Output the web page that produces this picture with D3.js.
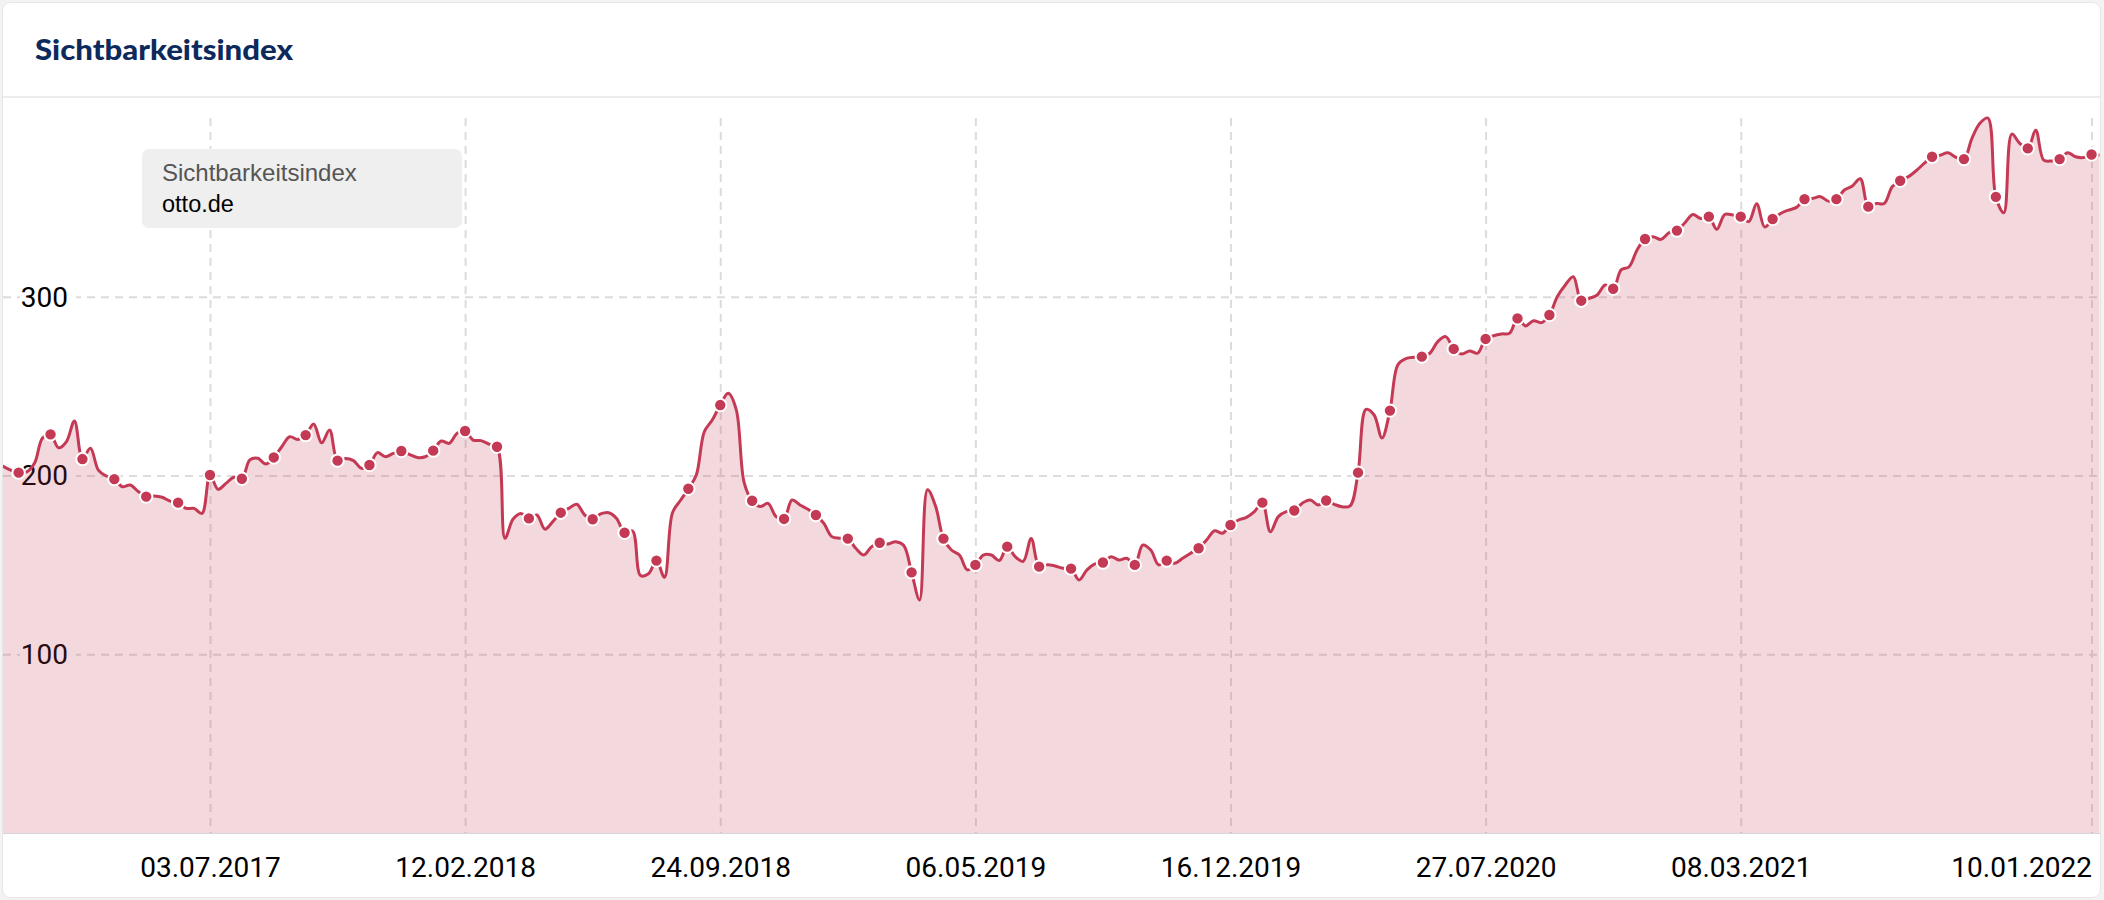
<!DOCTYPE html>
<html>
<head>
<meta charset="utf-8">
<script src="https://cdn.jsdelivr.net/npm/d3@7"></script>
<style>
  body { margin: 0; background: #f3f3f3; }
  svg { display: block; }
</style>
</head>
<body>
<div id="chart"></div>
<script>
// Sichtbarkeitsindex otto.de, one value per week (Mondays), grouped by ISO year
var firstWeek = "02.01.2017";

var values2017 = [205.3, 203, 201.6, 202, 207, 221, 223, 215.5, 219, 230.5,
    209.2, 215.2, 203, 199.7, 198, 193.7, 194.7, 191, 188.2, 188.5,
    187.8, 185.7, 184.8, 181.6, 181.6, 178.8, 200.3, 192.3, 195.6, 199,
    198.2, 208.7, 209.6, 206.4, 210.1, 216.1, 221.7, 220.2, 222.6, 228.8,
    218.3, 225.4, 208.3, 209.5, 208.3, 204, 205.9, 212.8, 210.5, 212.4,
    213.7, 211.8];
var values2018 = [210.1, 210.5, 213.9, 219.3, 218, 223.6, 224.9, 219.8,
    219.5, 217.6, 216.1, 164.9, 175.5, 178.8, 176, 177.9, 170, 174.2,
    179.2, 181.6, 183.9, 177.9, 175.5, 178.5, 179.2, 176, 168, 169,
    144, 145, 152.4, 143, 179, 186, 192.6, 200.3, 224.5, 231,
    239.4, 246, 237, 196, 185.9, 182.6, 184.4, 177, 175.7, 186.3,
    183.5, 181.1, 177.9, 173.2];
var values2019 = [165.8, 164.9, 164.7, 159.3, 155.5, 160.2,
    162.4, 161.7, 163, 161, 145.8, 130.4, 192, 183, 164.7, 158.3,
    155.5, 147.2, 150, 155.5, 155.5, 152.4, 160.2, 154.6, 152, 164.8,
    149, 150, 149.4, 148.1, 147.9, 141.6, 147.2, 150.5, 151.3, 154.6,
    152.7, 153.7, 150, 161.1, 158.3, 150, 152.4, 150.9, 153.7, 156.5,
    159.3, 163.9, 169.1, 167.7, 172.3, 175.1];
var values2020 = [176.6, 179.8, 184.8, 168.5,
    177, 179.8, 180.4, 184.5, 186.3, 183.5, 186, 183.9, 182.5, 183,
    201.6, 237, 234, 221, 236.3, 262, 265.4, 266.1, 266.5, 268.4,
    274.9, 277.7, 270.8, 268, 269.7, 268.4, 276.4, 278.2, 279.2, 279.6,
    287.9, 283.7, 286.6, 285.5, 289.8, 300.1, 306.6, 311.2, 297.8, 299.1,
    301, 306.6, 304.5, 315, 316.8, 326.2, 332.3, 333.6, 332.1];
var values2021 = [335.8,
    337, 341.4, 346, 343.8, 344.8, 337.7, 346, 345.7, 344.8, 342,
    352, 339, 343.5, 346.6, 348.5, 350, 354.6, 355, 356, 353.5,
    354.6, 359.7, 362, 366, 350.4, 352.2, 352.2, 361.5, 364.9, 367.1,
    370.5, 374.6, 378.3, 379.2, 380.5, 378, 377, 388.6, 397, 400,
    355.9, 347, 391, 385.8, 383, 393.2, 376.4, 376, 377, 380.5,
    378.3];
var values2022 = [377.9, 379.6, 379.2];

var xTickLabels = ["03.07.2017", "12.02.2018", "24.09.2018", "06.05.2019",
    "16.12.2019", "27.07.2020", "08.03.2021", "10.01.2022"];
var yTicks = [100, 200, 300];

var chartTitle = "Sichtbarkeitsindex";
var legendTitle = "Sichtbarkeitsindex";
var domainName = "otto.de";

var width = 2104;
var height = 900;
var color = "#c43a55";

var parseDate = d3.utcParse("%d.%m.%Y");
var start = parseDate(firstWeek);

var values = [].concat(values2017, values2018, values2019, values2020, values2021, values2022);
var data = values.map(function(v, i) {
    return {date: d3.utcDay.offset(start, 7 * i), value: v, index: i};
});
var tickDates = xTickLabels.map(parseDate);

var svg = d3.select("#chart")
    .append("svg")
    .attr("width", width)
    .attr("height", height);

// card
svg.append("rect")
    .attr("x", 2.5).attr("y", 2.5)
    .attr("width", 2098).attr("height", 895)
    .attr("rx", 8)
    .attr("fill", "#fff")
    .attr("stroke", "#e6e6e6");

svg.append("text")
    .attr("x", 35)
    .attr("y", 60)
    .attr("font-family", "Lato, 'Open Sans', sans-serif")
    .attr("font-weight", 900)
    .attr("font-size", 29)
    .attr("fill", "#0d2a5c")
    .attr("textLength", 258)
    .attr("lengthAdjust", "spacingAndGlyphs")
    .text(chartTitle);

svg.append("line")
    .attr("x1", 3).attr("x2", 2100)
    .attr("y1", 97).attr("y2", 97)
    .attr("stroke", "#ececec")
    .attr("stroke-width", 2);

var xScale = d3.scaleUtc()
    .domain(d3.extent(data, function(d) { return d.date; }))
    .range([2.7, 2099.5]);

var yScale = d3.scaleLinear()
    .domain([0, 400])
    .range([833, 118]);

svg.append("clipPath")
    .attr("id", "plot-clip")
    .append("rect")
    .attr("x", 3).attr("y", 98)
    .attr("width", 2097).attr("height", 740);

var plot = svg.append("g").attr("clip-path", "url(#plot-clip)");

// grid
var xGrid = plot.append("g")
    .attr("transform", "translate(0,118)")
    .call(d3.axisBottom(xScale).tickValues(tickDates).tickSize(715).tickFormat(""));
var yGrid = plot.append("g")
    .attr("transform", "translate(3,0)")
    .call(d3.axisRight(yScale).tickValues(yTicks).tickSize(2097).tickFormat(""));
[xGrid, yGrid].forEach(function(g) {
    g.select(".domain").remove();
    g.selectAll("line")
        .attr("stroke", "#dcdcdc")
        .attr("stroke-width", 2)
        .attr("stroke-dasharray", "8,6");
});

plot.append("line")
    .attr("x1", 3).attr("x2", 2100)
    .attr("y1", 833.5).attr("y2", 833.5)
    .attr("stroke", "#d6d6d6");

// y labels sit under the area
var yLabels = plot.selectAll(".ylabel")
    .data(yTicks)
    .enter()
    .append("g")
    .attr("transform", function(d) { return "translate(0," + yScale(d) + ")"; });
yLabels.append("rect")
    .attr("x", 20).attr("y", -16)
    .attr("width", 56).attr("height", 32)
    .attr("fill", "#fff");
yLabels.append("text")
    .attr("x", 68)
    .attr("dy", "0.35em")
    .attr("text-anchor", "end")
    .attr("font-family", "Roboto, sans-serif")
    .attr("font-size", 28)
    .attr("fill", "#000")
    .text(function(d) { return d; });

var curve = d3.curveCatmullRom;

var area = d3.area()
    .x(function(d) { return xScale(d.date); })
    .y0(yScale(0))
    .y1(function(d) { return yScale(d.value); })
    .curve(curve);

var line = d3.line()
    .x(function(d) { return xScale(d.date); })
    .y(function(d) { return yScale(d.value); })
    .curve(curve);

plot.append("path")
    .datum(data)
    .attr("d", area)
    .attr("fill", color)
    .attr("fill-opacity", 0.2);

plot.append("path")
    .datum(data)
    .attr("d", line)
    .attr("fill", "none")
    .attr("stroke", color)
    .attr("stroke-width", 3);

plot.selectAll("circle")
    .data(data.filter(function(d) { return d.index % 4 === 2; }))
    .enter()
    .append("circle")
    .attr("cx", function(d) { return xScale(d.date); })
    .attr("cy", function(d) { return yScale(d.value); })
    .attr("r", 6.2)
    .attr("fill", color)
    .attr("stroke", "#fff")
    .attr("stroke-width", 2);

// x labels
var xAxis = svg.append("g")
    .attr("transform", "translate(0,833)")
    .call(d3.axisBottom(xScale).tickValues(tickDates).tickSize(0).tickPadding(24)
        .tickFormat(d3.utcFormat("%d.%m.%Y")));
xAxis.select(".domain").remove();
xAxis.selectAll("text")
    .attr("font-family", "Roboto, sans-serif")
    .attr("font-size", 28)
    .attr("fill", "#000")
    .attr("text-anchor", function(d, i) { return i === tickDates.length - 1 ? "end" : "middle"; });

// legend box
var legend = svg.append("g");
legend.append("rect")
    .attr("x", 142).attr("y", 149)
    .attr("width", 320).attr("height", 79)
    .attr("rx", 7)
    .attr("fill", "#efefef");
legend.append("text")
    .attr("x", 162).attr("y", 181)
    .attr("font-family", "'Liberation Sans', Arial, sans-serif")
    .attr("font-size", 24)
    .attr("fill", "#555")
    .text(legendTitle);
legend.append("text")
    .attr("x", 162).attr("y", 212)
    .attr("font-family", "'Liberation Sans', Arial, sans-serif")
    .attr("font-size", 23.5)
    .attr("fill", "#000")
    .text(domainName);
</script>
</body>
</html>
